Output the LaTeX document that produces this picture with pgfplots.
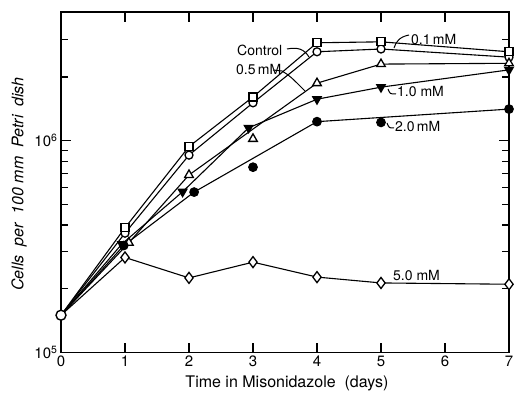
\documentclass[border=0pt]{standalone}
\usepackage{fontspec}
\setmainfont{TeX Gyre Heros}
\usepackage{pgfplots}
\pgfplotsset{compat=1.18}
\begin{document}
\begin{tikzpicture}
\path[use as bounding box] (-61bp,-40.5bp) rectangle (455bp,352.5bp);
\begin{axis}[
  ymode=log,
  scale only axis,
  width=448bp, height=340.2bp,
  xmin=0, xmax=7, ymin=1e5, ymax=4.04e6,
  xtick={0,1,2,3,4,5,6,7},
  ytick={1e5,1e6},
  yticklabels={10\textsuperscript{5},10\textsuperscript{6}},
  minor ytick={2e5,3e5,4e5,5e5,6e5,7e5,8e5,9e5,2e6,3e6},
  tick align=inside,
  major tick length=10bp, minor tick length=7bp,
  axis line style={line width=1.6bp},
  every tick/.style={line width=1.3bp, black},
  /pgf/number format/assume math mode=true,
  tick label style={font=\fontsize{15bp}{18bp}\selectfont},
  xlabel={Time in Misonidazole\ \ (days)},
  ylabel={\itshape Cells\ \ per\ \ 100 mm\ \ Petri\ \ dish},
  xlabel style={font=\fontsize{16bp}{19bp}\selectfont, at={(axis description cs:0.5045,-0.0897)}, anchor=center},
  ylabel style={font=\fontsize{16bp}{19bp}\selectfont, at={(axis description cs:-0.0938,0.4956)}, anchor=center},
  every axis plot/.append style={line width=1.1bp, black},
]
% Control
\addplot[mark=*, mark size=4bp, mark indices={2,3,4,5,6,7}, mark options={fill=white, line width=1.3bp}]
  coordinates {(0,1.5e5) (1,3.66e5) (2,8.55e5) (3,1.51e6) (4,2.63e6) (5,2.71e6) (7,2.48e6)};
% 0.1 mM
\addplot[mark=square*, mark size=4bp, mark indices={2,3,4,5,6,7}, mark options={fill=white, line width=1.3bp}]
  coordinates {(0,1.5e5) (1,3.88e5) (2,9.38e5) (3,1.61e6) (4,2.9e6) (5,2.93e6) (7,2.63e6)};
% 0.5 mM
\addplot[mark=triangle*, mark size=5bp, mark indices={2,3,4,5,6}, mark options={fill=white, line width=1.3bp}]
  coordinates {(0,1.5e5) (1.06,3.3e5) (2,6.89e5) (4,1.87e6) (5,2.30e6) (7,2.32e6)};
\addplot[only marks, mark=triangle*, mark size=5bp, mark options={fill=white, line width=1.3bp}]
  coordinates {(3,1.02e6)};
% 1.0 mM
\addplot[mark=triangle*, mark size=5bp, mark indices={2,3,4,5,6,7}, mark options={fill=black, rotate=180}]
  coordinates {(0,1.5e5) (0.95,3.25e5) (1.9,5.74e5) (2.93,1.15e6) (4,1.57e6) (5,1.79e6) (7,2.16e6)};
% 2.0 mM
\addplot[mark=*, mark size=4.3bp, mark indices={2,3,4,5}, mark options={fill=black}]
  coordinates {(0,1.5e5) (0.98,3.2e5) (2.08,5.72e5) (4,1.23e6) (7,1.41e6)};
\addplot[only marks, mark=*, mark size=4.3bp, mark options={fill=black}]
  coordinates {(3,7.5e5) (5,1.22e6)};
% 5.0 mM
\addplot[mark=diamond*, mark size=5.5bp, mark indices={2,3,4,5,6,7}, mark options={fill=white, line width=1.3bp}]
  coordinates {(0,1.5e5) (1,2.81e5) (2,2.25e5) (3,2.67e5) (4,2.27e5) (5,2.13e5) (7,2.1e5)};
% common start point
\addplot[only marks, mark=*, mark size=5bp, mark options={fill=white, line width=1.4bp}]
  coordinates {(0,1.5e5)};
\end{axis}
\begin{scope}[x=1bp, y=-1bp, shift={(-61bp,352.5bp)}, font=\fontsize{14bp}{17bp}\selectfont]
  \node[anchor=west, inner sep=0] at (237,50) {Control};
  \node[anchor=west, inner sep=0] at (236,70) {0.5\,mM};
  \node[anchor=west, inner sep=0] at (411,40) {0.1\,mM};
  \node[anchor=west, inner sep=0] at (397,92) {1.0 mM};
  \node[anchor=west, inner sep=0] at (395,127) {2.0\,mM};
  \node[anchor=west, inner sep=0] at (393,276) {5.0 mM};
  \draw[line width=1bp] (287,49) .. controls (298,47) and (304,49) .. (309,57);
  \draw[line width=1bp] (273,70) -- (282,71) .. controls (290,76) .. (305,91);
  \draw[line width=1bp] (409,35) .. controls (399,37) and (396,42) .. (394,48);
  \draw[line width=1bp] (388,89) .. controls (390,94) .. (396,94);
  \draw[line width=1bp] (387,123) .. controls (389,128) .. (394,128);
\end{scope}
\end{tikzpicture}
\end{document}
